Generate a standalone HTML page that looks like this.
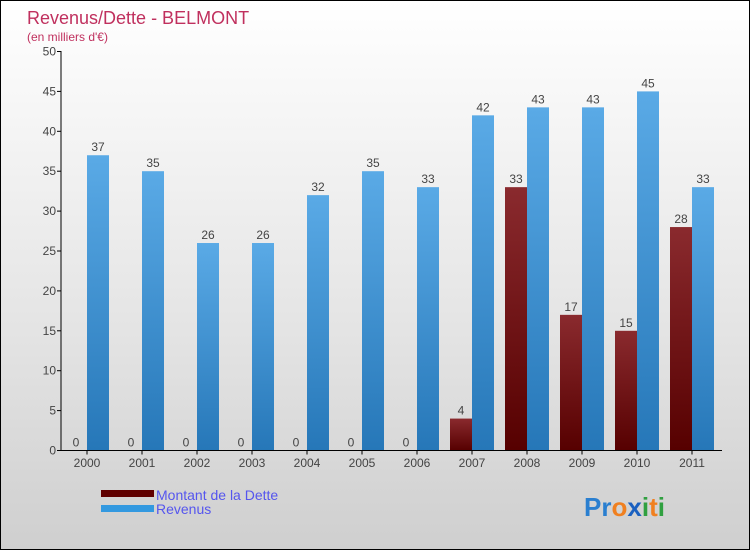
<!DOCTYPE html>
<html><head><meta charset="utf-8"><style>
body{margin:0}
#c{width:748px;height:548px;border:1px solid #000;background:linear-gradient(#fff 0%,#e4e4e4 60%,#cfcfcf 100%);position:relative;font-family:"Liberation Sans",sans-serif;overflow:hidden}
</style></head><body>
<div id="c">
<svg id="s" width="748" height="548">
<defs>
<linearGradient id="gr" x1="0" y1="0" x2="0" y2="1"><stop offset="0" stop-color="#5aaae6"/><stop offset="1" stop-color="#2677b8"/></linearGradient>
<linearGradient id="gd" x1="0" y1="0" x2="0" y2="1"><stop offset="0" stop-color="#8a2a2e"/><stop offset="1" stop-color="#560000"/></linearGradient>
</defs>
<text x="26" y="23" font-size="18" fill="#c0305e">Revenus/Dette - BELMONT</text>
<text x="26" y="40" font-size="12" fill="#c0305e">(en milliers d'€)</text>
<g id="g"></g>
<rect x="100" y="489" width="53" height="7" fill="#600000"/>
<rect x="100" y="504" width="53" height="7" fill="#3399e0"/>
<text x="155" y="499" font-size="14" fill="#5555ee">Montant de la Dette</text>
<text x="155" y="513" font-size="14" fill="#5555ee">Revenus</text>
<text x="583" y="515" font-size="26" font-weight="bold"><tspan fill="#2a7fd0">Pr</tspan><tspan fill="#f08020">o</tspan><tspan fill="#1a60c0">x</tspan><tspan fill="#30a040">i</tspan><tspan fill="#f08020">t</tspan><tspan fill="#30a040">i</tspan></text>
</svg>
</div>
<script>
const years=["2000","2001","2002","2003","2004","2005","2006","2007","2008","2009","2010","2011"];
const dette=[0,0,0,0,0,0,0,4,33,17,15,28];
const revenus=[37,35,26,26,32,35,33,42,43,43,45,33];
const yTicks=[0,5,10,15,20,25,30,35,40,45,50];
const NS="http://www.w3.org/2000/svg";
const g=document.getElementById('g');
const y=v=>449.5-v*7.98;
const xc=i=>86+55*i;
function mk(t,a,txt){const e=document.createElementNS(NS,t);for(const k in a)e.setAttribute(k,a[k]);if(txt!==undefined)e.textContent=txt;g.appendChild(e);return e;}
yTicks.forEach(v=>{
 const l=mk('line',{x1:56,x2:60,y1:y(v),y2:y(v),stroke:'#000'});
 
 
 const t=mk('text',{x:55,y:y(v)+4,'font-size':12,fill:'#444','text-anchor':'end'},v);
 
 
});
years.forEach((yr,i)=>{
 const c=xc(i);
 const d=mk('rect',{x:c-22,y:y(dette[i]),width:22,height:449.5-y(dette[i]),fill:'url(#gd)'});
 
 
 const r=mk('rect',{x:c,y:y(revenus[i]),width:22,height:449.5-y(revenus[i]),fill:'url(#gr)'});
 
 
 const dl=mk('text',{x:c-11,y:y(dette[i])-4,'font-size':12,fill:'#444','text-anchor':'middle'},dette[i]);
 
 
 const rl=mk('text',{x:c+11,y:y(revenus[i])-4,'font-size':12,fill:'#444','text-anchor':'middle'},revenus[i]);
 
 
 const tk=mk('line',{x1:c,x2:c,y1:449.5,y2:453.5,stroke:'#000'});
 
 
 const xl=mk('text',{x:c,y:466,'font-size':12,fill:'#444','text-anchor':'middle'},yr);
 
 
});
const ya=mk('line',{x1:60,x2:60,y1:50,y2:449.5,stroke:'#000'});


const xa=mk('line',{x1:60,x2:721,y1:449.5,y2:449.5,stroke:'#000'});


</script>
</body></html>
